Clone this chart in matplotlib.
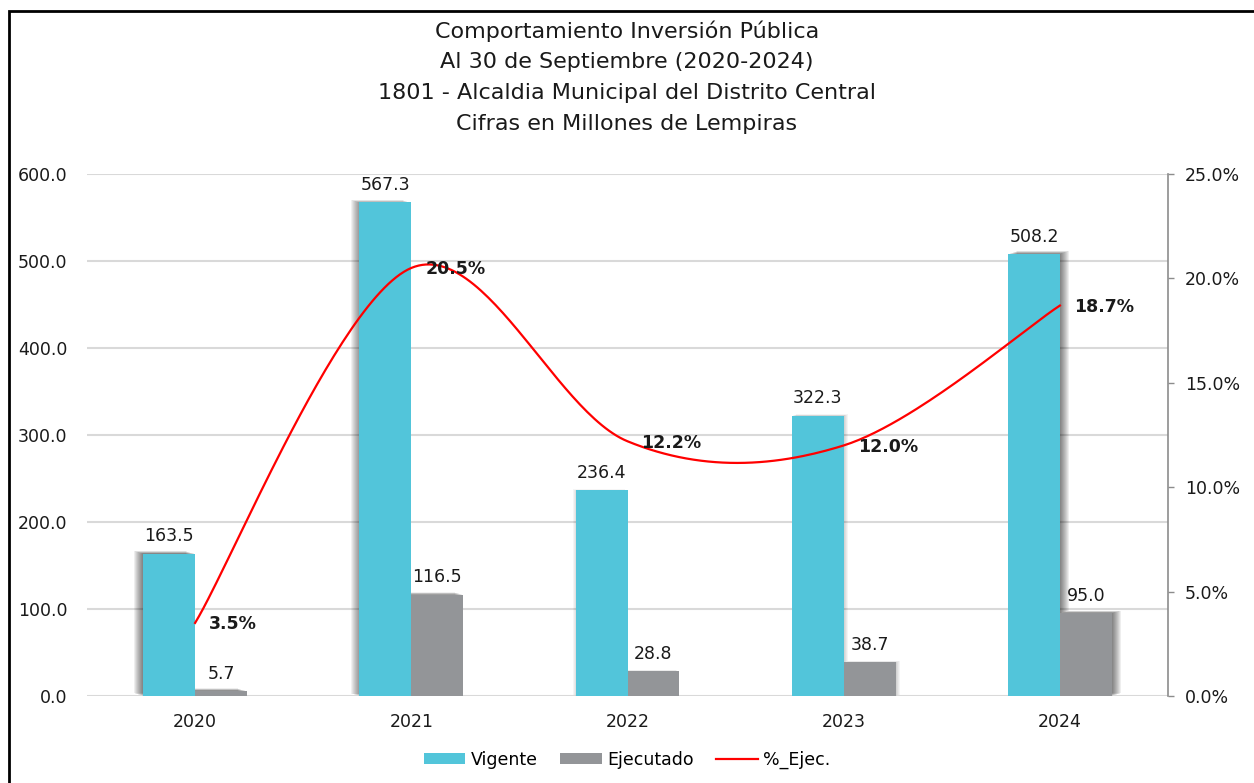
import numpy as np
import matplotlib
matplotlib.use("Agg")
import matplotlib.pyplot as plt
from matplotlib import patheffects as pe
from matplotlib.patches import Rectangle, Patch
from matplotlib.lines import Line2D

plt.rcParams['font.family'] = ['DejaVu Sans']

years = ['2020', '2021', '2022', '2023', '2024']
vigente = [163.5, 567.3, 236.4, 322.3, 508.2]
ejecutado = [5.7, 116.5, 28.8, 38.7, 95.0]
pct_ejec = [3.5, 20.5, 12.2, 12.0, 18.7]

title_lines = ["Comportamiento Inversión Pública",
               "Al 30 de Septiembre (2020-2024)",
               "1801 - Alcaldia Municipal del Distrito Central",
               "Cifras en Millones de Lempiras"]

c_vig = '#52C5DA'
c_eje = '#939598'
c_line = '#FF0000'
txt = '#1a1a1a'
fs = 12.5

fig = plt.figure(figsize=(12.54, 7.83), dpi=100)
ax = fig.add_axes([87/1254, 1-696/783, (1168-87)/1254, (696-174)/783])
ax2 = ax.twinx()

x = np.arange(len(years))
w = 0.24
# perspective-like soft shadow: (direction, extent px, strength)
shadow_dir = [-1, -1, -1, 1, 1]
shadow_ext = [9, 8, 3, 4, 9]
shadow_alpha = [0.065, 0.055, 0.04, 0.045, 0.065]
PT = 72.0 / 100.0

def shadow_fx(i):
    fx = []
    for d in range(shadow_ext[i], 0, -1):
        fx.append(pe.SimplePatchShadow(offset=(shadow_dir[i]*d*PT, 0.3*d*PT),
                                       shadow_rgbFace='black', alpha=shadow_alpha[i]))
    fx.append(pe.Normal())
    return fx

b1 = ax.bar(x - w/2, vigente, w, color=c_vig)
b2 = ax.bar(x + w/2, ejecutado, w, color=c_eje)
for i, (r1, r2) in enumerate(zip(b1, b2)):
    r1.set_path_effects(shadow_fx(i))
    r2.set_path_effects(shadow_fx(i))
    if shadow_dir[i] < 0:
        r2.set_zorder(3); r1.set_zorder(4)
    else:
        r1.set_zorder(3); r2.set_zorder(4)

for xi, v in zip(x, vigente):
    ax.annotate(f"{v:.1f}", (xi - w/2, v), xytext=(0, 6), textcoords='offset points',
                ha='center', va='bottom', fontsize=fs, color=txt, zorder=6)
for xi, v in zip(x, ejecutado):
    ax.annotate(f"{v:.1f}", (xi + w/2, v), xytext=(0, 6), textcoords='offset points',
                ha='center', va='bottom', fontsize=fs, color=txt, zorder=6)

ax.set_ylim(0, 600)
ax.set_xlim(-0.5, len(years) - 0.5)
ax.set_yticks(np.arange(0, 601, 100))
ax.set_yticklabels([f"{t:.1f}" for t in np.arange(0, 601, 100)])
ax.yaxis.grid(True, color='#d9d9d9', linewidth=1.5, zorder=0)
ax.set_axisbelow(True)
ax.set_xticks(x)
ax.set_xticklabels(years)
ax.tick_params(axis='both', length=0, labelsize=fs, colors=txt)
ax.tick_params(axis='y', pad=14)
ax.tick_params(axis='x', pad=12)
for s in ['top', 'left', 'right', 'bottom']:
    ax.spines[s].set_visible(False)

# smoothed line (Excel-like Bezier smoothing in screen-scaled coords)
sx, sy = 216.0, 522.0/25.0
P = np.column_stack([x * sx, np.array(pct_ejec) * sy])
n = len(P)
pts = []
for i in range(n - 1):
    p0 = P[i - 1] if i > 0 else P[i]
    p1 = P[i]
    p2 = P[i + 1]
    p3 = P[i + 2] if i + 2 < n else P[i + 1]
    c1 = p1 + (p2 - p0) / 6.0
    c2 = p2 - (p3 - p1) / 6.0
    t = np.linspace(0, 1, 60)[:, None]
    seg = (1-t)**3 * p1 + 3*(1-t)**2*t*c1 + 3*(1-t)*t**2*c2 + t**3*p2
    pts.append(seg if i == 0 else seg[1:])
pts = np.vstack(pts)
ax2.plot(pts[:, 0] / sx, pts[:, 1] / sy, color=c_line, linewidth=1.6, zorder=5)
ax2.set_ylim(0, 25)
ax2.set_yticks(np.arange(0, 25.1, 5))
ax2.set_yticklabels([f"{t:.1f}%" for t in np.arange(0, 25.1, 5)])
ax2.tick_params(axis='y', length=4, width=1, color='#8c8c8c', labelsize=fs, labelcolor=txt, pad=8)
for s in ['top', 'left', 'bottom']:
    ax2.spines[s].set_visible(False)
ax2.spines['right'].set_color('#8c8c8c')
ax2.spines['right'].set_linewidth(1.2)

for xi, p in zip(x, pct_ejec):
    ax2.annotate(f"{p:.1f}%", (xi, p), xytext=(10, -1), textcoords='offset points',
                 ha='left', va='center', fontsize=fs, fontweight='bold', color=txt, zorder=6)

# title
for i, line in enumerate(title_lines):
    fig.text(0.5, 1 - (31 + i*31)/783, line, ha='center', va='center', fontsize=16, color=txt)

# legend
handles = [Patch(facecolor=c_vig), Patch(facecolor=c_eje), Line2D([0], [0], color=c_line, linewidth=1.6)]
fig.legend(handles, ['Vigente', 'Ejecutado', '%_Ejec.'], loc='center', bbox_to_anchor=(0.5, 1 - 760/783),
           ncol=3, frameon=False, fontsize=fs, handlelength=2.4, handleheight=0.55,
           columnspacing=1.3, handletextpad=0.3)

# border (top & left visible)
fig.patches.append(Rectangle((9/1254, -0.1), 1.2, 1 - 11/783 + 0.1, transform=fig.transFigure,
                             fill=False, edgecolor='black', linewidth=2))

fig.savefig('out.png', dpi=100, facecolor='white')
